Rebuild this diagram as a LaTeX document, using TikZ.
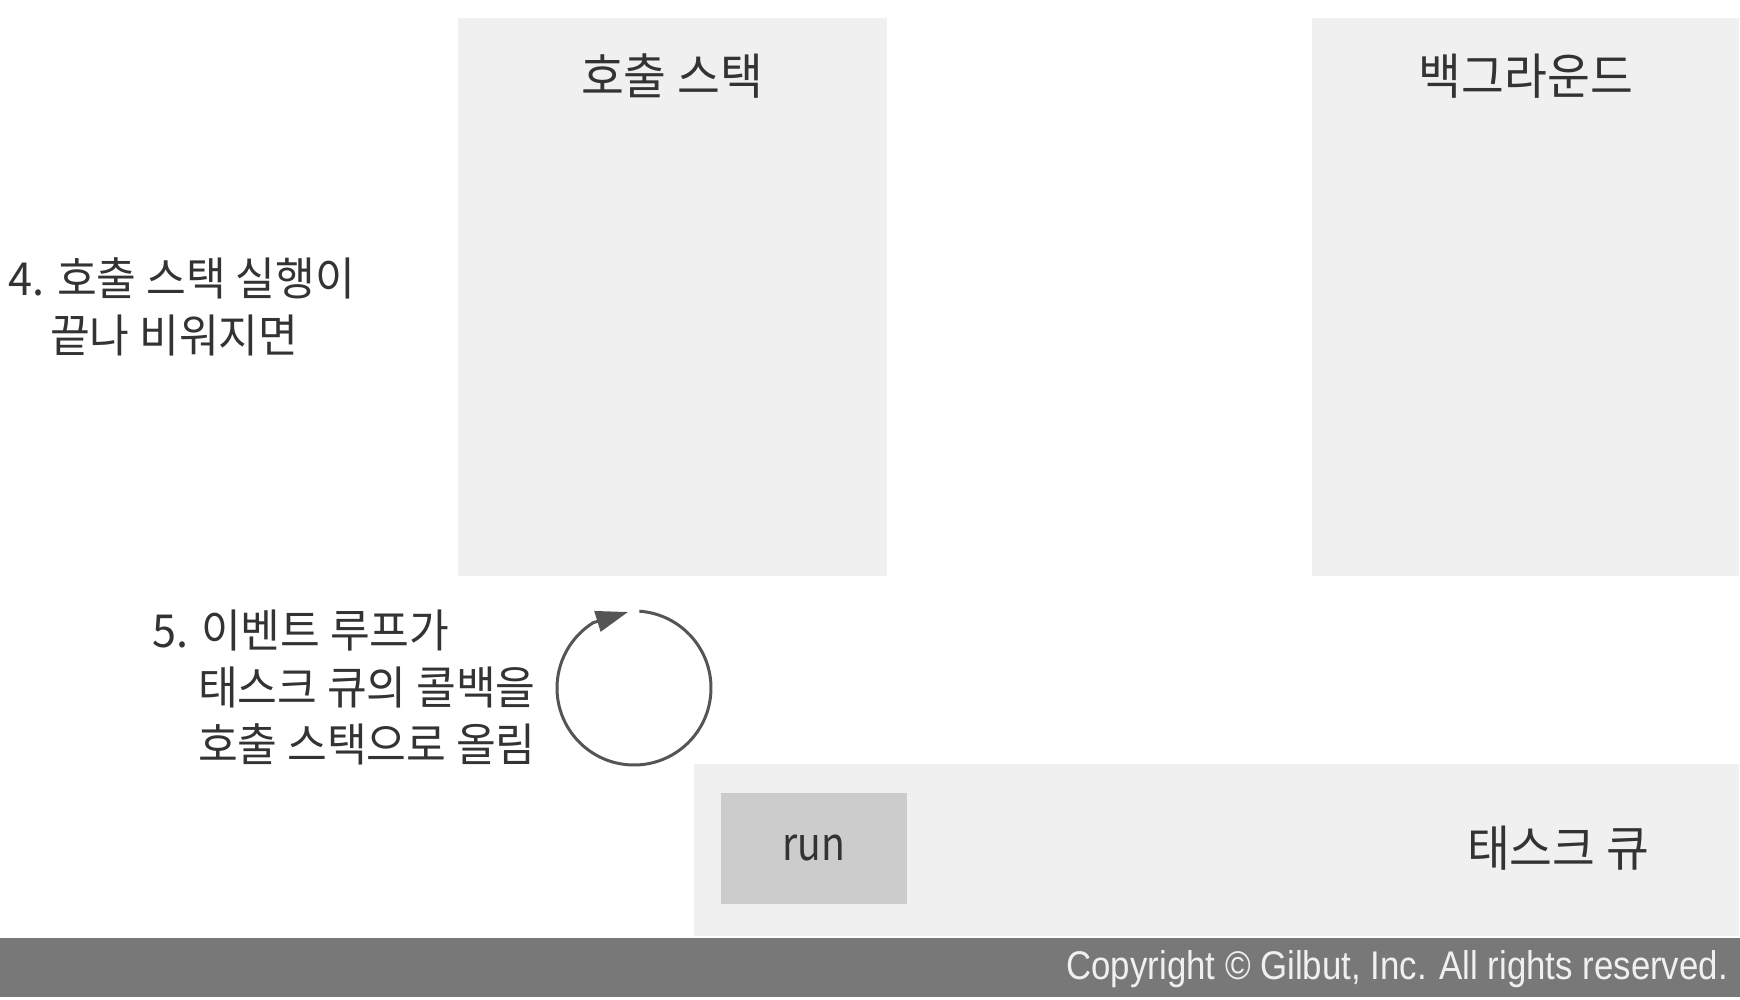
\documentclass[tikz,border=0pt]{standalone}
\usepackage{fontspec}
\setmainfont{Noto Sans CJK KR}[FakeStretch=0.95]
\newfontfamily\runfont{Noto Sans CJK KR}[FakeStretch=0.85]
\newfontfamily\copyfont{Liberation Sans}[FakeStretch=0.87]
\usetikzlibrary{arrows.meta}

\definecolor{panelgray}{HTML}{F0F0F0}
\definecolor{jobgray}{HTML}{CCCCCC}
\definecolor{ink}{HTML}{333333}
\definecolor{footgray}{HTML}{787878}
\definecolor{loopgray}{HTML}{555555}

\begin{document}
\begin{tikzpicture}[x=1pt, y=-1pt,
	panel/.style={fill=panelgray, inner sep=0pt, anchor=north west},
	job/.style={fill=jobgray, inner sep=0pt, text=ink, font=\runfont\fontsize{46}{50}\selectfont},
	title/.style={text=ink, inner sep=0pt, font=\fontsize{49}{60}\selectfont},
	note/.style={text=ink, inner sep=0pt, anchor=west, align=left, font=\fontsize{45.5}{57}\selectfont},
	looparrow/.style={draw=loopgray, line width=3pt, -{Triangle[length=32pt, width=21pt]}}]
	\useasboundingbox (0,0) rectangle (1740,1000);

	% panels
	\node[panel, minimum width=429pt, minimum height=558pt] (stack) at (458,18) {};
	\node[panel, minimum width=427pt, minimum height=558pt] (bg) at (1312,18) {};
	\node[panel, minimum width=1045pt, minimum height=172pt] (queue) at (694,764) {};
	\node[panel, fill=footgray, minimum width=1740pt, minimum height=59pt] (foot) at (0,938) {};

	\node[title] (stacktitle) at (672,76) {호출 스택};
	\node[title] (bgtitle) at (1526,76) {백그라운드};
	\node[title] (queuetitle) at (1558,848) {태스크 큐};
	\node[job, minimum width=186pt, minimum height=111pt] (run) at (814,848) {run};

	% notes
	\node[note] (step4) at (8,307) {4. 호출 스택 실행이\\\hspace*{42pt}끝나 비워지면};
	\node[note] (step5) at (152,687) {5. 이벤트 루프가\\\hspace*{46pt}태스크 큐의 콜백을\\\hspace*{46pt}호출 스택으로 올림};

	% event loop (y is flipped, so angles are mirrored)
	\coordinate (loop) at (634,688);
	\coordinate (looptip) at (628,612);
	\draw[looparrow] (loop) ++(-86:77) arc[start angle=-86, end angle=238, radius=77] -- (looptip);

	\node[inner sep=0pt, anchor=east, text=white!94!black, font=\copyfont\fontsize{40}{48}\selectfont] (copy) at (1728,969) {Copyright © Gilbut, Inc. All rights reserved.};
\end{tikzpicture}
\end{document}
